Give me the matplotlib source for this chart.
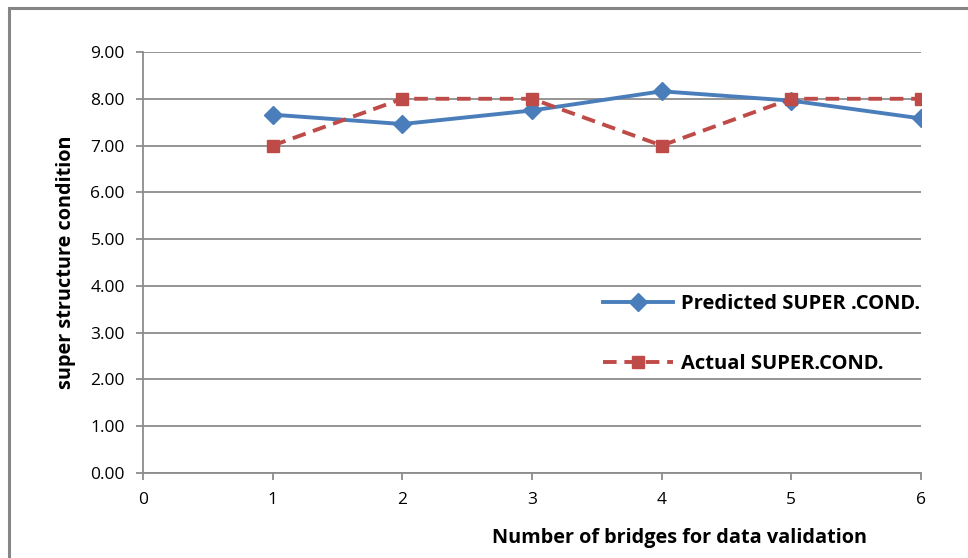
import matplotlib.pyplot as plt
from matplotlib.patches import Rectangle

bridges = [1, 2, 3, 4, 5, 6]
predicted = [7.66, 7.46, 7.75, 8.16, 7.96, 7.58]
actual = [7.0, 8.0, 8.0, 7.0, 8.0, 8.0]

plt.rcParams['font.family'] = ['Open Sans', 'DejaVu Sans']

fig = plt.figure(figsize=(9.68, 5.58), dpi=100)
ax = fig.add_axes([143 / 968, 1 - 473 / 558, 778 / 968, 421 / 558])

# outer chart border
fig.patches.append(Rectangle((9 / 968, -0.1), 1.2, 1 - 8 / 558 + 0.1,
                             transform=fig.transFigure, fill=False,
                             edgecolor='#868686', linewidth=2.2))

grid_c = '#8c8c8c'
ax.plot(bridges, predicted, color='#4A7EBB', linewidth=2.8, marker='D',
        markersize=9, label='Predicted SUPER .COND.', zorder=3)
ax.plot(bridges, actual, color='#BE4B48', linewidth=2.8, linestyle=(0, (3.5, 2)),
        marker='s', markersize=8.5, label='Actual SUPER.COND.', zorder=3)

ax.set_xlim(0, 6)
ax.set_ylim(0, 9)
ax.set_xticks(range(7))
ax.set_yticks(range(10))
ax.set_yticklabels([f'{v:.2f}' for v in range(10)])
ax.yaxis.grid(True, color=grid_c, linewidth=1.3)
ax.set_axisbelow(True)
for s in ['top', 'right']:
    ax.spines[s].set_visible(False)
for s in ['left', 'bottom']:
    ax.spines[s].set_color(grid_c)
    ax.spines[s].set_linewidth(1.3)
ax.tick_params(axis='both', direction='out', length=5, width=1.3, color=grid_c,
               labelsize=12.5, colors='black')
ax.tick_params(axis='y', pad=8)
ax.tick_params(axis='x', pad=9)

ax.set_ylabel('super structure condition', fontsize=14.3, fontweight='bold')
ax.yaxis.set_label_coords(76 / 968, 1 - 262 / 558, transform=fig.transFigure)
fig.text(680 / 968, 1 - 538 / 558, 'Number of bridges for data validation',
         fontsize=14.3, fontweight='bold', ha='center', va='center')

ax.legend(loc='upper left', bbox_to_anchor=(603 / 968, 1 - 294 / 558),
          bbox_transform=fig.transFigure, frameon=False, handlelength=3.5,
          labelspacing=2.0, handletextpad=0.35, borderpad=0, borderaxespad=0,
          prop={'weight': 'bold', 'size': 14.5})

fig.savefig('out.png', dpi=100)
